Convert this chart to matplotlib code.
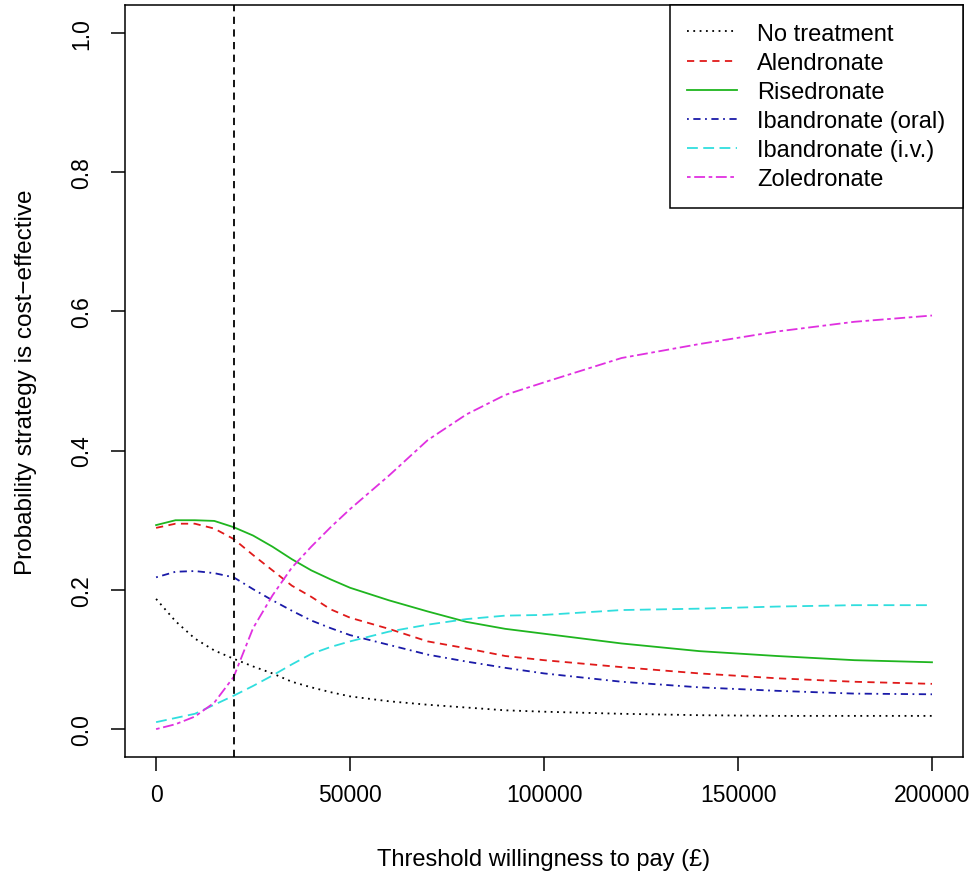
import matplotlib
matplotlib.use("Agg")
import matplotlib.pyplot as plt

plt.rcParams['font.family'] = ['Liberation Sans', 'DejaVu Sans']

# Willingness-to-pay thresholds (£)
wtp = [0, 5000, 10000, 15000, 20000, 25000, 30000, 35000, 40000, 45000, 50000,
       60000, 70000, 80000, 90000, 100000, 120000, 140000, 160000, 180000, 200000]

# Probability that each strategy is cost-effective
no_treatment = [0.187, 0.155, 0.130, 0.113, 0.101, 0.090, 0.080, 0.068, 0.060, 0.053, 0.047,
                0.040, 0.035, 0.031, 0.027, 0.025, 0.022, 0.020, 0.019, 0.019, 0.019]
alendronate = [0.289, 0.295, 0.295, 0.288, 0.273, 0.250, 0.228, 0.206, 0.190, 0.172, 0.160,
               0.144, 0.126, 0.116, 0.105, 0.099, 0.089, 0.080, 0.073, 0.068, 0.065]
risedronate = [0.293, 0.300, 0.300, 0.299, 0.290, 0.278, 0.262, 0.244, 0.228, 0.215, 0.203,
               0.185, 0.169, 0.154, 0.144, 0.137, 0.123, 0.112, 0.105, 0.099, 0.096]
ibandronate_oral = [0.218, 0.226, 0.227, 0.224, 0.218, 0.201, 0.185, 0.170, 0.156, 0.145, 0.135,
                    0.121, 0.107, 0.097, 0.088, 0.080, 0.068, 0.060, 0.055, 0.051, 0.050]
ibandronate_iv = [0.010, 0.016, 0.022, 0.035, 0.048, 0.062, 0.077, 0.093, 0.108, 0.118, 0.126,
                  0.140, 0.150, 0.158, 0.163, 0.164, 0.171, 0.173, 0.176, 0.178, 0.178]
zoledronate = [0.000, 0.007, 0.018, 0.038, 0.075, 0.145, 0.192, 0.232, 0.262, 0.290, 0.316,
               0.364, 0.415, 0.452, 0.480, 0.498, 0.533, 0.553, 0.571, 0.585, 0.594]

labels = ["No treatment", "Alendronate", "Risedronate",
          "Ibandronate (oral)", "Ibandronate (i.v.)", "Zoledronate"]
series = [no_treatment, alendronate, risedronate, ibandronate_oral, ibandronate_iv, zoledronate]
colors = ["black", "#e01a1a", "#1fb51f", "#1a1aa8", "#30dede", "#e030e0"]
styles = [(0, (1, 2.5)), (0, (4, 3)), "-", (0, (1, 2.5, 4, 2.5)), (0, (6, 3)), (0, (2, 2, 6, 2))]

threshold = 20000

fig = plt.figure(figsize=(9.77, 8.79), dpi=100)
ax = fig.add_axes([0.128, 0.1377, 0.8577, 0.8555])

for y, lab, c, ls in zip(series, labels, colors, styles):
    ax.plot(wtp, y, color=c, linestyle=ls, linewidth=1.3, label=lab)

ax.axvline(threshold, color="black", linestyle=(0, (4, 3)), linewidth=1.3)

ax.set_xlim(-8000, 208000)
ax.set_ylim(-0.04, 1.04)
ax.set_xticks([0, 50000, 100000, 150000, 200000])
ax.set_xticklabels(["0", "50000", "100000", "150000", "200000"])
ax.set_yticks([0.0, 0.2, 0.4, 0.6, 0.8, 1.0])
ax.set_yticklabels(["0.0", "0.2", "0.4", "0.6", "0.8", "1.0"], rotation=90, va="center")

ax.tick_params(axis="both", direction="out", length=10, width=1.1, labelsize=16.5)
ax.tick_params(axis="x", pad=9)
ax.tick_params(axis="y", pad=13)
for sp in ax.spines.values():
    sp.set_linewidth(1.1)

ax.set_xlabel("Threshold willingness to pay (£)", fontsize=17, labelpad=30)
ax.set_ylabel("Probability strategy is cost\u2212effective", fontsize=17.5, labelpad=24)

leg = ax.legend(loc="upper right", borderaxespad=0, fancybox=False, edgecolor="black",
                framealpha=1, fontsize=17, handlelength=2.1, handletextpad=0.85,
                labelspacing=0.30, borderpad=0.75)
leg.get_frame().set_linewidth(1.1)

fig.savefig("out.png", dpi=100)
